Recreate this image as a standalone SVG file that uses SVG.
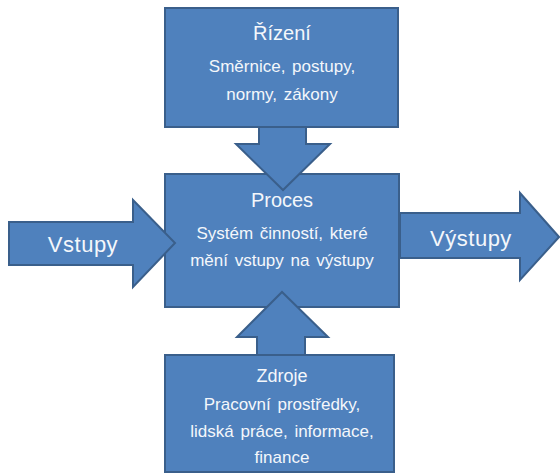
<svg xmlns="http://www.w3.org/2000/svg" width="560" height="473" viewBox="0 0 560 473">
  <style>
    .shape { fill: #4f81bd; stroke: #3a5f8b; stroke-width: 2; stroke-linejoin: miter; }
    text { font-family: "Liberation Sans", "DejaVu Sans", sans-serif; fill: #f4f7fb; text-anchor: middle; }
    .title { font-size: 20px; }
    .small-title { font-size: 18px; }
    .body { font-size: 17px; word-spacing: 2px; }
    .big { font-size: 22px; letter-spacing: 0.5px; }
  </style>
  <rect width="560" height="473" fill="#ffffff"/>

  <!-- Řízení block -->
  <g id="rizeni">
    <rect class="shape" x="165" y="8" width="233" height="119"/>
    <text class="title" x="282" y="40">Řízení</text>
    <text class="body" x="282" y="72">Směrnice, postupy,</text>
    <text class="body" x="282" y="100">normy, zákony</text>
  </g>

  <!-- Zdroje block -->
  <g id="zdroje">
    <rect class="shape" x="165" y="355" width="229" height="117"/>
    <text class="small-title" x="282" y="382">Zdroje</text>
    <text class="body" x="282" y="410">Pracovní prostředky,</text>
    <text class="body" x="282" y="437">lidská práce, informace,</text>
    <text class="body" x="282" y="463">finance</text>
  </g>

  <!-- Proces block -->
  <g id="proces">
    <rect class="shape" x="165" y="174" width="234" height="133"/>
    <text class="title" x="282" y="207">Proces</text>
    <text class="body" x="282" y="239">Systém činností, které</text>
    <text class="body" x="282" y="266">mění vstupy na výstupy</text>
  </g>

  <!-- connectors: block arrows -->
  <g id="connectors">
    <path class="shape" d="M259,127 L306,127 L306,144 L330,144 L283,190 L236,144 L259,144 Z"/>
    <path class="shape" d="M257,355 L305,355 L305,337 L328,337 L282,292 L237,337 L257,337 Z"/>
    <g id="vstupy">
      <path class="shape" d="M9,222 L133,222 L133,200 L175,243 L133,287 L133,265 L9,265 Z"/>
      <text class="big" x="83" y="252">Vstupy</text>
    </g>
    <g id="vystupy">
      <path class="shape" d="M400,213 L520,213 L520,193 L559,237 L520,280 L520,258 L400,258 Z"/>
      <text class="big" x="471" y="246">Výstupy</text>
    </g>
  </g>
</svg>
